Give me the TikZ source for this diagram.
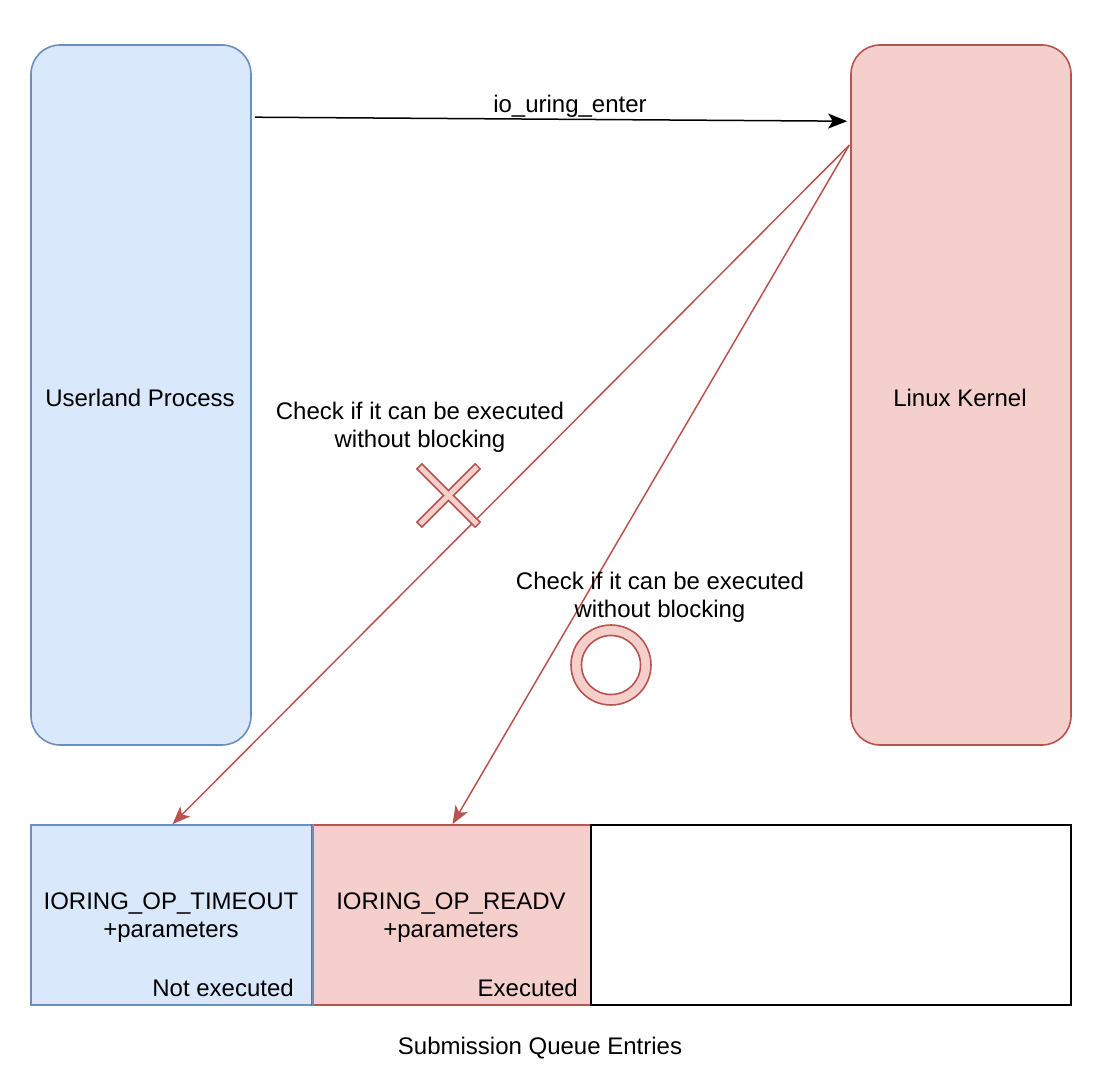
\documentclass[tikz,border=0pt]{standalone}
\usepackage{fontspec}
\setmainfont{Liberation Sans}
\usetikzlibrary{arrows.meta}
\definecolor{bfill}{HTML}{DAE8FC}
\definecolor{bline}{HTML}{6C8EBF}
\definecolor{rfill}{HTML}{F4CFCC}
\definecolor{rline}{HTML}{B85450}
\begin{document}
\begin{tikzpicture}[x=1pt,y=-1pt,
  txt/.style={font=\fontsize{24}{28}\selectfont, align=center, inner sep=0pt},
  bluebox/.style={draw=bline, fill=bfill, line width=1.6pt},
  redbox/.style={draw=rline, fill=rfill, line width=1.6pt},
  plainbox/.style={draw=black, fill=white, line width=1.6pt},
  tall/.style={rounded corners=29pt, minimum width=220pt, minimum height=700pt, inner sep=0pt},
  entry/.style={minimum height=180pt, inner sep=0pt},
  redarrow/.style={draw=rline, line width=1.5pt, -{Stealth[length=18pt,width=14pt,inset=4.5pt]}},
  blackarrow/.style={draw=black, line width=1.5pt, -{Stealth[length=19pt,width=15pt,inset=4.5pt]}}]
\useasboundingbox (0,0) rectangle (1100,1078);

% tall boxes
\node[bluebox, tall] (user) at (141,395) {};
\node[txt] (userlbl) at (140,398) {Userland Process};
\node[redbox, tall] (kern) at (961,395) {};
\node[txt] (kernlbl) at (960,398) {Linux Kernel};

% submission queue entries
\node[bluebox, entry, minimum width=281pt] (q1) at (171.5,915) {};
\node[redbox, entry, minimum width=279pt] (q2) at (451.5,915) {};
\node[plainbox, entry, minimum width=480pt] (q3) at (831,915) {};
\draw[bline, line width=1.6pt] (q1.north east) -- (q1.south east);

\node[txt] (q1lbl) at (171,918) {IORING\_OP\_TIMEOUT\\+parameters};
\node[txt, anchor=east] (q1st) at (294,988) {Not executed};
\node[txt] (q2lbl) at (451,918) {IORING\_OP\_READV\\+parameters};
\node[txt, anchor=east] (q2st) at (578,988) {Executed};
\node[txt] (sqe) at (540,1048) {Submission Queue Entries};

% io_uring_enter arrow
\coordinate (ustart) at ([xshift=3pt,yshift=-73pt]user.north east);
\coordinate (kend) at ([xshift=-3pt,yshift=-77pt]kern.north west);
\draw[blackarrow] (ustart) -- (kend);
\node[txt] (enterlbl) at (570,106) {io\_uring\_enter};

% red arrows
\coordinate (kstart) at ([xshift=-1pt,yshift=-101pt]kern.north west);
\coordinate (q1top) at ([xshift=1pt]q1.north);
\coordinate (q2top) at ([xshift=1pt]q2.north);
\draw[redarrow] (kstart) -- (q1top);
\draw[redarrow] (kstart) -- (q2top);

% check labels
\node[txt] (check1) at (420,427) {Check if it can be executed\\without blocking};
\node[txt] (check2) at (660,597) {Check if it can be executed\\without blocking};

% cross mark
\draw[rline, line width=8.5pt] (418.8,465.8) -- (478.2,525.2);
\draw[rline, line width=8.5pt] (478.2,465.8) -- (418.8,525.2);
\draw[rfill, line width=5pt] (420,467) -- (477,524);
\draw[rfill, line width=5pt] (477,467) -- (420,524);

% circle mark
\filldraw[even odd rule, draw=rline, fill=rfill, line width=1.6pt] (611,665) circle (40) (611,665) circle (29.5);
\end{tikzpicture}
\end{document}
